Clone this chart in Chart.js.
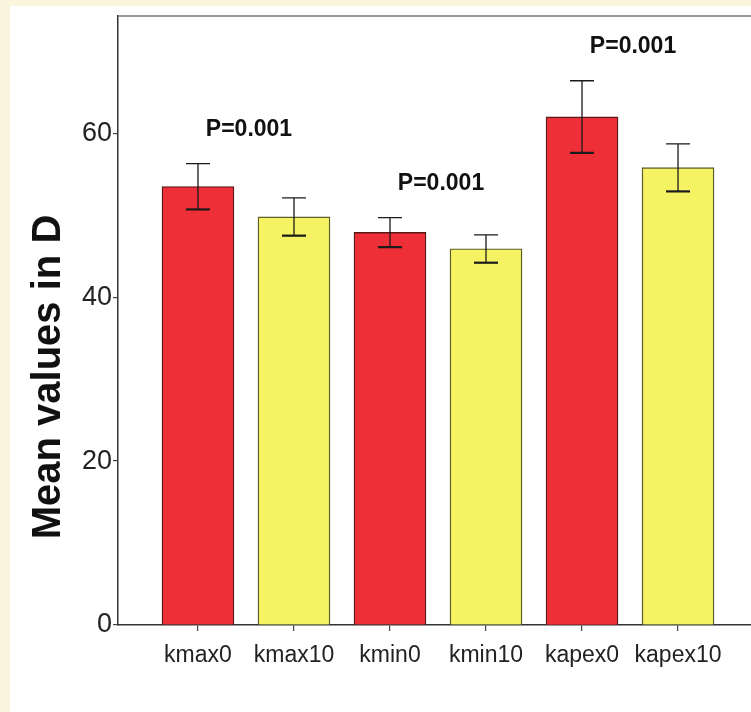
<!DOCTYPE html>
<html>
<head>
<meta charset="utf-8">
<script src="https://cdn.jsdelivr.net/npm/chart.js@4.4.1/dist/chart.umd.min.js"></script>
<style>
  html, body { margin: 0; padding: 0; background: #fbf5dd; width: 751px; height: 712px; overflow: hidden; }
  #wrap { position: absolute; left: 10px; top: 6px; width: 741px; height: 706px; background: #ffffff; }
  canvas { display: block; }
</style>
</head>
<body>
<div id="wrap"><canvas id="c" width="741" height="706"></canvas></div>
<script>
// Mean corneal curvature (D) before (0) and after (10) treatment
const categories = ['kmax0', 'kmax10', 'kmin0', 'kmin10', 'kapex0', 'kapex10'];
const means      = [53.5, 49.8, 47.9, 45.9, 62.0, 55.8];
const errors     = [2.8, 2.3, 1.8, 1.7, 4.4, 2.9];
const yTicks     = [0, 20, 40, 60];
// paired comparisons: indices of the two bars and the p-value text
const pairs      = [[0, 1], [2, 3], [4, 5]];
const pLabels    = ['P=0.001', 'P=0.001', 'P=0.001'];

const RED = '#ef2f37';
const YELLOW = '#f5f363';
const FONT = '"Liberation Sans", Arial, Helvetica, sans-serif';

const barColors = categories.map((_, i) => i % 2 === 0 ? RED : YELLOW);
const barBorders = categories.map((_, i) => i % 2 === 0 ? '#5a1818' : '#5e5e2a');

const errorBars = {
  id: 'errorBars',
  afterDatasetsDraw(chart) {
    const { ctx, scales: { x, y } } = chart;
    ctx.save();
    ctx.strokeStyle = '#1a1a1a';
    ctx.lineWidth = 1.3;
    means.forEach((m, i) => {
      const cx = x.getPixelForValue(i);
      const top = y.getPixelForValue(m + errors[i]);
      const bot = y.getPixelForValue(m - errors[i]);
      const half = 12;
      ctx.beginPath();
      ctx.moveTo(cx, top); ctx.lineTo(cx, bot);
      ctx.moveTo(cx - half, top); ctx.lineTo(cx + half, top);
      ctx.stroke();
      ctx.save();
      ctx.lineWidth = 2.2;
      ctx.beginPath();
      ctx.moveTo(cx - half, bot); ctx.lineTo(cx + half, bot);
      ctx.stroke();
      ctx.restore();
    });
    // p-value annotations above each pair
    ctx.fillStyle = '#111';
    ctx.font = 'bold 23px ' + FONT;
    ctx.textAlign = 'center';
    ctx.textBaseline = 'middle';
    pairs.forEach(([a, b], k) => {
      const cx = (x.getPixelForValue(a) + x.getPixelForValue(b)) / 2 + 3;
      const topVal = Math.max(means[a] + errors[a], means[b] + errors[b]);
      const cy = y.getPixelForValue(topVal) - 34;
      ctx.fillText(pLabels[k], cx, cy);
    });
    ctx.restore();
  }
};

const frame = {
  id: 'frame',
  afterDraw(chart) {
    const { ctx, chartArea: ca } = chart;
    ctx.save();
    // top border of the plot frame
    ctx.strokeStyle = '#7a7a7a';
    ctx.lineWidth = 1.5;
    ctx.beginPath();
    ctx.moveTo(ca.left, ca.top);
    ctx.lineTo(chart.width, ca.top);
    ctx.stroke();
    // rotated y-axis title
    ctx.fillStyle = '#111';
    ctx.font = 'bold 40px ' + FONT;
    ctx.textAlign = 'center';
    ctx.textBaseline = 'middle';
    ctx.translate(39, 371);
    ctx.rotate(-Math.PI / 2);
    ctx.fillText('Mean values in D', 0, 0);
    ctx.restore();
  }
};

new Chart(document.getElementById('c'), {
  type: 'bar',
  data: {
    datasets: [{
      data: means.map((v, i) => ({ x: i, y: v })),
      backgroundColor: barColors,
      borderColor: barBorders,
      borderWidth: 1.4,
      barThickness: 72
    }]
  },
  options: {
    responsive: false,
    devicePixelRatio: 1,
    animation: false,
    layout: { padding: { top: 10, right: 0, left: 0, bottom: 0 } },
    plugins: { legend: { display: false }, tooltip: { enabled: false } },
    scales: {
      x: {
        type: 'linear',
        offset: false,
        min: -0.833,
        max: 5.76,
        afterBuildTicks: axis => { axis.ticks = categories.map((_, i) => ({ value: i })); },
        afterFit: scale => { scale.height = 87; scale.paddingLeft = 0; scale.paddingRight = 0; },
        grid: { display: true, offset: false, drawOnChartArea: false, drawTicks: true, tickLength: 6, color: '#444', lineWidth: 1.2 },
        border: { display: true, color: '#333', width: 1.5 },
        ticks: {
          autoSkip: false,
          maxRotation: 0,
          padding: 11,
          color: '#222',
          font: { family: FONT, size: 23 },
          callback: v => categories[v] ?? ''
        }
      },
      y: {
        min: 0,
        max: 74.3,
        afterBuildTicks: axis => { axis.ticks = yTicks.map(v => ({ value: v })); },
        afterFit: scale => { scale.width = 108; scale.paddingTop = 0; scale.paddingBottom = 0; },
        grid: { display: true, drawOnChartArea: false, drawTicks: true, tickLength: 5, color: '#444', lineWidth: 1.2 },
        border: { display: true, color: '#333', width: 1.5 },
        ticks: {
          padding: 1,
          color: '#222',
          font: { family: FONT, size: 27 }
        }
      }
    }
  },
  plugins: [errorBars, frame]
});
</script>
</body>
</html>
